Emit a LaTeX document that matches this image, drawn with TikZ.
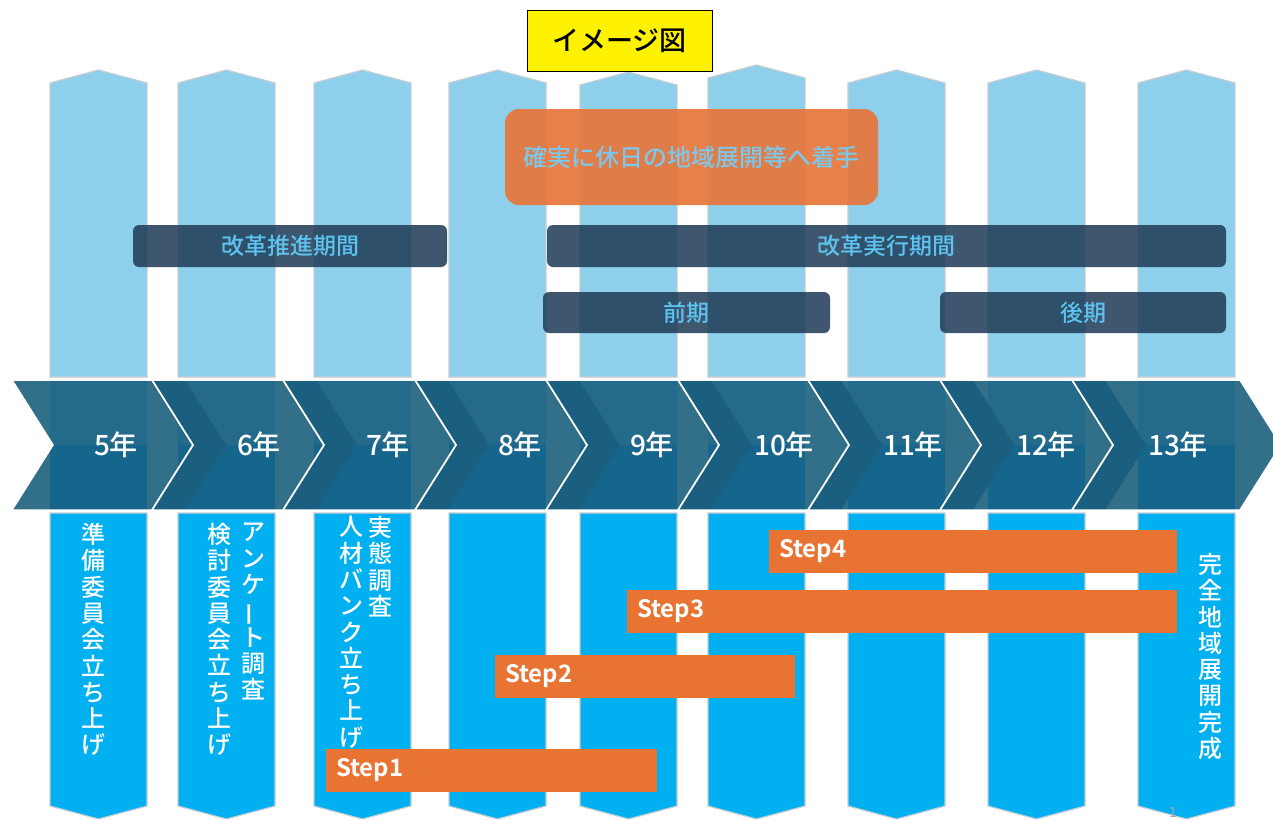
\documentclass[tikz,border=0pt]{standalone}
\usepackage{fontspec}
\setmainfont{Noto Sans CJK JP}[BoldFont={Noto Sans CJK JP Bold}]
\newfontfamily\jpmed{Noto Sans CJK JP Medium}
\usepackage{graphicx}
\definecolor{topblue}{HTML}{8ECFEB}
\definecolor{botblue}{HTML}{00B0F0}
\definecolor{colborder}{HTML}{C5CDD5}
\definecolor{gapteal}{HTML}{326F88}
\definecolor{bandtop}{HTML}{246A8A}
\definecolor{bandbot}{HTML}{16658D}
\definecolor{banddark}{HTML}{1B5F80}
\definecolor{navy}{HTML}{1E3A55}
\definecolor{bartext}{HTML}{5DC3EE}
\definecolor{orangebig}{HTML}{E8763A}
\definecolor{bigtext}{HTML}{7CC8EC}
\definecolor{steporange}{HTML}{E87332}
\newcommand{\vbar}{\rotatebox[origin=c]{90}{ー}}
\begin{document}
\begin{tikzpicture}[x=1pt,y=-1pt,
  topcol/.style={fill=topblue, draw=colborder, line width=1.2pt},
  botcol/.style={fill=botblue, draw=colborder, line width=1.2pt},
  navybar/.style={fill=navy, fill opacity=0.85, text opacity=1, text=bartext, rounded corners=6pt,
    font=\jpmed\fontsize{23}{28}\selectfont, inner sep=0pt},
  bigbox/.style={fill=orangebig, fill opacity=0.92, text opacity=1, text=bigtext, rounded corners=14pt,
    font=\jpmed\fontsize{24}{28}\selectfont, inner sep=0pt, minimum width=373pt, minimum height=96pt},
  titlebox/.style={fill=yellow, draw=black, line width=0.8pt, font=\jpmed\fontsize{27}{30}\selectfont,
    inner sep=0pt, minimum width=185pt, minimum height=61pt},
  stepbar/.style={fill=steporange, text=white, font=\bfseries\fontsize{24}{28}\selectfont,
    inner xsep=10pt, inner ysep=0pt, minimum height=43pt, align=left},
  yearlbl/.style={text=white, font=\jpmed\fontsize{28}{30}\selectfont, inner sep=0pt},
  vtext/.style={text=white, font=\jpmed\fontsize{24}{26.3}\selectfont, align=center, inner sep=0pt, anchor=north},
  chev/.style={draw=white, line width=1.5pt}
]
\clip (0,0) rectangle (1273,819);
\fill[white] (0,0) rectangle (1273,819);

% columns
\foreach \xl/\yt in {50/70,178/70,314/70,449/70,580/72,708/65,848/70,988/70,1138/70}{
  \path[topcol] (\xl,\yt+13) -- (\xl+48.5,\yt) -- (\xl+97,\yt+13) -- (\xl+97,377) -- (\xl,377) -- cycle;
  \path[botcol] (\xl,513) -- (\xl+97,513) -- (\xl+97,806) -- (\xl+48.5,819) -- (\xl,806) -- cycle;
}

% arrow band
\foreach \L/\R in {12/152,152/283,283/415,415/546,546/678,678/808,808/940,940/1072,1072/1240}{
  \fill[gapteal] (\L,380) -- (\R,380) -- (\R+41,445) -- (\R,510) -- (\L,510) -- (\L+41,445) -- cycle;
}
\begin{scope}
  \clip (12,380) -- (1240,380) -- (1281,445) -- (1240,510) -- (12,510) -- (53,445) -- cycle;
  \foreach \xl in {50,178,314,449,580,708,848,988,1138}{
    \fill[bandtop] (\xl,380) rectangle (\xl+97,445);
    \fill[bandbot] (\xl,445) rectangle (\xl+97,510);
  }
  \foreach \L in {152,283,415,546,678,808,940,1072}{
    \fill[banddark] (\L,380) -- (\L+33,380) -- (\L+74,445) -- (\L+33,510) -- (\L,510) -- (\L+41,445) -- cycle;
  }
\end{scope}
\foreach \L/\R in {12/152,152/283,283/415,415/546,546/678,678/808,808/940,940/1072,1072/1240}{
  \path[chev] (\L,380) -- (\R,380) -- (\R+41,445) -- (\R,510) -- (\L,510) -- (\L+41,445) -- cycle;
}

% year labels
\foreach \x/\t/\n in {116/5年/y5,259/6年/y6,388/7年/y7,520/8年/y8,652/9年/y9,784/10年/y10,913/11年/y11,1046/12年/y12,1178/13年/y13}{
  \node[yearlbl] (\n) at (\x,445) {\t};
}

% title
\node[titlebox] (title) at (619.5,40.5) {イメージ図};

% orange big box
\node[bigbox] (big) at (691.5,157) {確実に休日の地域展開等へ着手};

% navy period bars
\node[navybar, minimum width=314pt, minimum height=42pt] (suishin) at (290,246) {改革推進期間};
\node[navybar, minimum width=679pt, minimum height=42pt] (jikko) at (886.5,246) {改革実行期間};
\node[navybar, minimum width=287pt, minimum height=41pt] (zenki) at (686.5,312.5) {前期};
\node[navybar, minimum width=286pt, minimum height=41pt] (kouki) at (1083,312.5) {後期};

% vertical texts
\node[vtext] (v1) at (93,523) {準\\備\\委\\員\\会\\立\\ち\\上\\げ};
\node[vtext] (v2a) at (253,523) {ア\\ン\\ケ\\\vbar\\ト\\調\\査};
\node[vtext] (v2b) at (219,523) {検\\討\\委\\員\\会\\立\\ち\\上\\げ};
\node[vtext] (v3a) at (380,516) {実\\態\\調\\査};
\node[vtext] (v3b) at (351,516) {人\\材\\バ\\ン\\ク\\立\\ち\\上\\げ};
\node[vtext] (v9) at (1210,553) {完\\全\\地\\域\\展\\開\\完\\成};

% steps
\node[stepbar, text width=388pt] (s4) at (973,551.5) {Step4};
\node[stepbar, text width=530pt] (s3) at (902,611) {Step3};
\node[stepbar, text width=280pt] (s2) at (645,676.5) {Step2};
\node[stepbar, text width=311pt] (s1) at (491.5,770.5) {Step1};

% page number
\node[text=gray!70, font=\fontsize{14}{16}\selectfont, inner sep=0pt] (pg) at (1173,812) {1};
\end{tikzpicture}
\end{document}
